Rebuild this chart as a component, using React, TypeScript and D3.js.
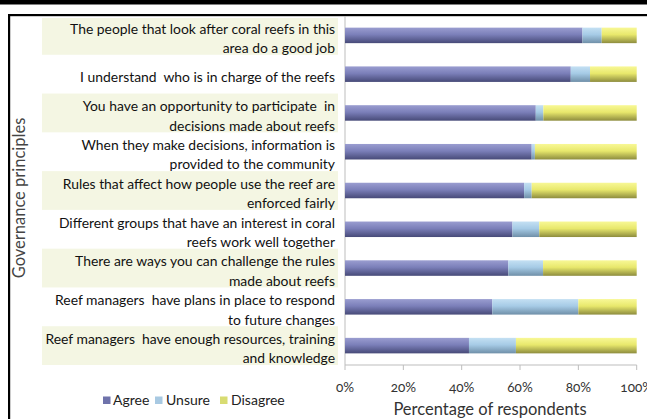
import React from "react";
import * as d3 from "d3";

const categories: string[][] = [
  ["The people that look after coral reefs in this", "area do a good job"],
  ["I understand  who is in charge of the reefs"],
  ["You have an opportunity to participate  in", "decisions made about reefs"],
  ["When they make decisions, information is", "provided to the community"],
  ["Rules that affect how people use the reef are", "enforced fairly"],
  ["Different groups that have an interest in coral", "reefs work well together"],
  ["There are ways you can challenge the rules", "made about reefs"],
  ["Reef managers  have plans in place to respond", "to future changes"],
  ["Reef managers  have enough resources, training", "and knowledge"],
];
const agree = [81.4, 77.4, 65.4, 64.0, 61.4, 57.4, 56.0, 50.5, 42.5];
const unsure = [6.6, 6.6, 2.6, 1.1, 2.6, 9.2, 11.9, 29.5, 16.1];
const disagree = agree.map((a, i) => 100 - a - unsure[i]);
const seriesNames = ["Agree", "Unsure", "Disagree"];
const xTicks = [0, 20, 40, 60, 80, 100];

const W = 647, H = 419;
const plot = { left: 345, right: 636.7, top: 16, bottom: 365 };

const grads = [
  { id: "gA", stops: ["#9a9dd0", "#7b7fb9", "#474a78"], legend: "#6f73ab" },
  { id: "gU", stops: ["#c4e0f3", "#a6cbe6", "#6f8fa8"], legend: "#a8c9e2" },
  { id: "gD", stops: ["#f8f896", "#e8e86c", "#8d8c3e"], legend: "#d8dc72" },
];

export default function App() {
  const x = d3.scaleLinear().domain([0, 100]).range([plot.left, plot.right]);
  const y = d3
    .scaleBand<number>()
    .domain(d3.range(categories.length))
    .range([plot.top, plot.bottom])
    .paddingInner(0.6)
    .paddingOuter(0.3);
  const band = d3
    .scaleBand<number>()
    .domain(d3.range(categories.length))
    .range([plot.top, plot.bottom]);
  const data = [agree, unsure, disagree];
  const font = "Lato, 'Open Sans', sans-serif";

  const legendItems = [
    { x: 103, tx: 113 },
    { x: 155, tx: 166 },
    { x: 220, tx: 231 },
  ];

  return (
    <svg
      width={W}
      height={H}
      style={{ position: "absolute", left: 0, top: 0, background: "#fff" }}
      fontFamily={font}
    >
      <defs>
        {grads.map((g) => (
          <linearGradient key={g.id} id={g.id} x1="0" y1="0" x2="0" y2="1">
            <stop offset="0" stopColor={g.stops[0]} />
            <stop offset="0.45" stopColor={g.stops[1]} />
            <stop offset="1" stopColor={g.stops[2]} />
          </linearGradient>
        ))}
      </defs>
      <rect x={0} y={0} width={W} height={H} fill="#fff" />
      {/* frame */}
      <rect x={0} y={0} width={W} height={4.5} fill="#000" />
      <rect x={8} y={14} width={W - 8} height={2.2} fill="#000" />
      <rect x={8} y={14} width={2.2} height={H - 14} fill="#000" />

      {/* label backgrounds */}
      {categories.map((_, i) =>
        i % 2 === 0 ? (
          <rect
            key={"bg" + i}
            x={42}
            y={band(i)! + (i === 0 ? 2 : 0)}
            width={296}
            height={band.bandwidth() - (i === 0 ? 2 : 0)}
            fill="#f4f6e3"
          />
        ) : null
      )}

      {/* category labels */}
      {categories.map((lines, i) => {
        const c = band(i)! + band.bandwidth() / 2 + 3.5;
        const lh = 19.5;
        return (
          <text key={"l" + i} fontSize={13.9} fill="#111" textAnchor="end">
            {lines.map((ln, j) => (
              <tspan
                key={j}
                x={335}
                y={c + (j - (lines.length - 1) / 2) * lh + 4.5}
                style={{ whiteSpace: "pre" }}
              >
                {ln}
              </tspan>
            ))}
          </text>
        );
      })}

      {/* axes lines */}
      <line x1={plot.left} x2={plot.left} y1={plot.top} y2={plot.bottom} stroke="#bdbdbd" strokeWidth={1} />
      <line x1={plot.left} x2={plot.right} y1={plot.bottom} y2={plot.bottom} stroke="#bdbdbd" strokeWidth={1} />
      {xTicks.map((t) => (
        <line key={"t" + t} x1={x(t)} x2={x(t)} y1={plot.bottom} y2={plot.bottom + 5} stroke="#bdbdbd" />
      ))}

      {/* bars */}
      {categories.map((_, i) => {
        let acc = 0;
        return (
          <g key={"b" + i}>
            {data.map((s, k) => {
              const x0 = x(acc);
              acc += s[i];
              const x1 = x(acc);
              return (
                <rect
                  key={k}
                  x={x0}
                  y={y(i)!}
                  width={Math.max(0, x1 - x0)}
                  height={y.bandwidth()}
                  fill={`url(#${grads[k].id})`}
                />
              );
            })}
          </g>
        );
      })}

      {/* x tick labels */}
      {xTicks.map((t) => (
        <text
          key={"tl" + t}
          x={x(t)}
          y={392}
          fontSize={13.5}
          fill="#333"
          textAnchor="middle"
          style={{ fontVariantNumeric: "oldstyle-nums" }}
        >
          {t + "%"}
        </text>
      ))}
      <text x={490} y={415} fontSize={16.5} fill="#333" textAnchor="middle">
        Percentage of respondents
      </text>

      {/* y title */}
      <text
        transform="translate(25,198) rotate(-90)"
        fontSize={16.5}
        fill="#444"
        textAnchor="middle"
      >
        Governance principles
      </text>

      {/* legend */}
      {seriesNames.map((n, k) => (
        <g key={"lg" + k}>
          <rect x={legendItems[k].x} y={396.5} width={7.5} height={7.5} fill={grads[k].legend} />
          <text x={legendItems[k].tx} y={405} fontSize={14} fill="#222">
            {n}
          </text>
        </g>
      ))}
    </svg>
  );
}
